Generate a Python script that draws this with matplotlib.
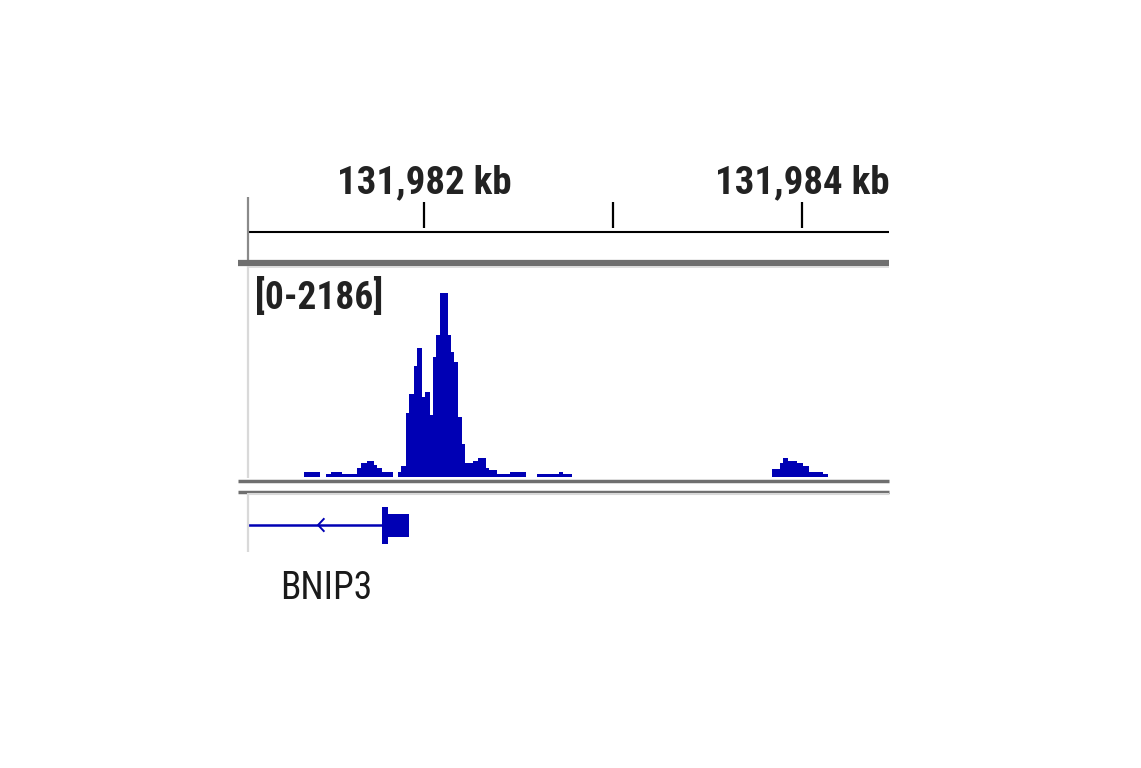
import matplotlib
matplotlib.use("Agg")
import matplotlib.pyplot as plt
from matplotlib.lines import Line2D
from matplotlib.patches import Rectangle

# ---------------- data (positions in bp relative to 131,982,000) ----------------
view_start = -939          # left edge of view
view_end = 2458            # right edge of view
ref_pos = 131982000

tick_positions = [0, 1000, 2000]
tick_labels = ["131,982 kb", "", "131,984 kb"]

data_range = (0, 2186)
range_label = "[0-2186]"

bin_start = [-638, -521, -495, -437, -357, -336, -304, -267, -251, -225,
             -140, -124, -98, -82, -56, -40, -13, 3, 29, 45, 61, 82, 124,
             140, 156, 177, 198, 214, 257, 283, 325, 341, 384, 452,
             595, 712, 733,
             1839, 1881, 1897, 1923, 1971, 2003, 2034, 2109]
bin_end = [-553, -495, -437, -357, -336, -304, -267, -251, -225, -167,
           -124, -98, -82, -56, -40, -13, 3, 29, 45, 61, 82, 124, 140,
           156, 177, 198, 214, 257, 283, 325, 341, 384, 452, 537,
           712, 733, 780,
           1881, 1897, 1923, 1971, 2003, 2034, 2109, 2135]
bin_value = [53, 32, 53, 32, 95, 148, 169, 127, 95, 53,
             53, 116, 676, 876, 1172, 1362, 845, 898, 655, 1267, 1500, 1943, 1500,
             1320, 1214, 634, 348, 148, 169, 201, 95, 74, 32, 53,
             32, 53, 32,
             84, 148, 201, 169, 148, 116, 53, 32]

gene_name = "BNIP3"
gene_line_end = -225          # intron line runs from left edge to here
exon_start, exon_end = -225, -193
utr_start, utr_end = -193, -82
strand_arrow = -563           # tip of the "<" chevron

# ---------------- styling ----------------
BLUE = "#0000b4"
DARK = "#6f6f6f"
LIGHT = "#d9d9d9"
FONT = ["Roboto Condensed", "DejaVu Sans"]

W, H = 1141, 768
fig = plt.figure(figsize=(W / 100, H / 100), dpi=100)
fig.patch.set_facecolor("white")


def frac_box(x0, y_top, x1, y_bot):
    return [x0 / W, 1 - y_bot / H, (x1 - x0) / W, (y_bot - y_top) / H]


def hline(y, x0, x1, color, lw):
    fig.add_artist(Line2D([x0 / W, x1 / W], [1 - y / H, 1 - y / H],
                          color=color, lw=lw, transform=fig.transFigure,
                          solid_capstyle="butt"))


def vline(x, y0, y1, color, lw):
    fig.add_artist(Line2D([x / W, x / W], [1 - y0 / H, 1 - y1 / H],
                          color=color, lw=lw, transform=fig.transFigure,
                          solid_capstyle="butt"))


# ---------------- ruler ----------------
ax_r = fig.add_axes(frac_box(247, 197, 889, 260))
ax_r.set_xlim(view_start, view_end)
ax_r.set_ylim(0, 63)
ax_r.axis("off")
ax_r.axhline(28.5, color="black", lw=1.5)
ax_r.vlines(tick_positions, 32, 58, color="black", lw=1.6)
for p, lab in zip(tick_positions, tick_labels):
    if lab:
        ax_r.text(p, 67, lab, ha="center", va="baseline", fontsize=28,
                  fontweight="bold", family=FONT, color="#222222",
                  clip_on=False)

# ---------------- signal track ----------------
ax_d = fig.add_axes(frac_box(247, 270, 889, 477))
ax_d.set_xlim(view_start, view_end)
ax_d.set_ylim(*data_range)
ax_d.axis("off")
widths = [e - s for s, e in zip(bin_start, bin_end)]
ax_d.bar(bin_start, bin_value, width=widths, align="edge", color=BLUE,
         edgecolor="none", linewidth=0)
ax_d.text(0.012, 0.96, range_label, transform=ax_d.transAxes, ha="left",
          va="top", fontsize=27, fontweight="bold", family=FONT,
          color="#222222")

# ---------------- gene track ----------------
ax_g = fig.add_axes(frac_box(247, 500, 889, 550))
ax_g.set_xlim(view_start, view_end)
ax_g.set_ylim(-25, 25)
ax_g.axis("off")
ax_g.plot([view_start, gene_line_end], [0, 0], color=BLUE, lw=1.8,
          solid_capstyle="butt")
ax_g.add_patch(Rectangle((exon_start, -18.5), exon_end - exon_start, 37,
                         color=BLUE, lw=0))
ax_g.add_patch(Rectangle((utr_start, -11.5), utr_end - utr_start, 23,
                         color=BLUE, lw=0))
ax_g.plot([strand_arrow + 30, strand_arrow, strand_arrow + 30], [6, 0, -6],
          color=BLUE, lw=1.4)
ax_g.text(-520, -45, gene_name, ha="center", va="top", fontsize=27,
          family=FONT, fontweight="normal", color="#1a1a1a", clip_on=False)

# ---------------- frame lines ----------------
vline(248, 197, 260, "#8a8a8a", 1.6)
vline(247.5, 266, 478, LIGHT, 1.6)
vline(247.5, 493, 552, LIGHT, 1.6)
hline(263, 238, 889, DARK, 4.5)
hline(267, 247, 889, LIGHT, 1.2)
hline(480.5, 238, 889, DARK, 2.5)
hline(491.5, 238, 889, DARK, 2.5)
hline(494, 247, 889, LIGHT, 1.5)

fig.savefig("out.png", dpi=100, facecolor="white")
